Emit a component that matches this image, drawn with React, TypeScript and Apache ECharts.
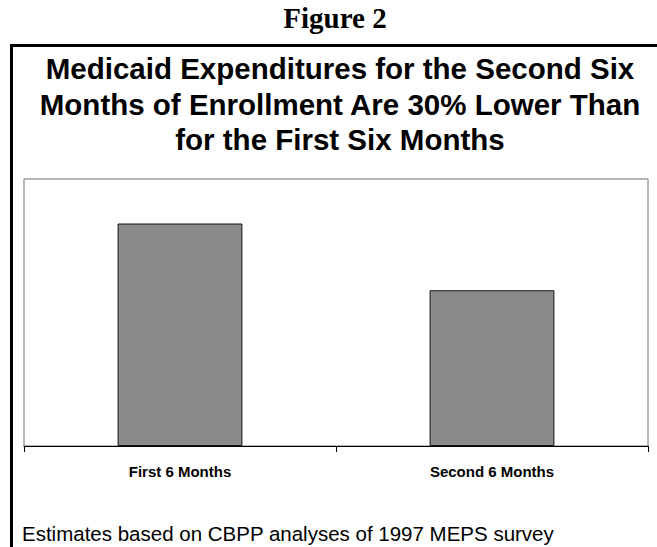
import React, { useEffect, useRef } from "react";
import * as echarts from "echarts";

const categories = ["First 6 Months", "Second 6 Months"];
const expenditures = [100, 70];
const figureLabel = "Figure 2";
const chartTitle =
  "Medicaid Expenditures for the Second Six\nMonths of Enrollment Are 30% Lower Than\nfor the First Six Months";
const footnote = "Estimates based on CBPP analyses of 1997 MEPS survey";

export default function App() {
  const ref = useRef<HTMLDivElement>(null);
  useEffect(() => {
    document.body.style.margin = "0";
    const chart = echarts.init(ref.current!, null, { renderer: "svg" });
    chart.setOption({
      animation: false,
      backgroundColor: "#ffffff",
      title: {
        text: chartTitle,
        left: 335,
        top: 46,
        textAlign: "center",
        textStyle: {
          fontFamily: "Liberation Sans, Arial, sans-serif",
          fontWeight: "bold",
          fontSize: 29.5,
          lineHeight: 35.5,
          color: "#000",
        },
      },
      grid: {
        left: 24,
        top: 179,
        width: 624,
        height: 267,
        show: true,
        borderColor: "#707070",
        borderWidth: 1,
        backgroundColor: "#fff",
      },
      xAxis: {
        type: "category",
        data: categories,
        axisLine: { lineStyle: { color: "#000", width: 1 } },
        axisTick: { show: true, length: 6, lineStyle: { color: "#000" } },
        axisLabel: {
          margin: 18,
          color: "#000",
          fontFamily: "Liberation Sans, Arial, sans-serif",
          fontWeight: "bold",
          fontSize: 15,
        },
      },
      yAxis: {
        type: "value",
        min: 0,
        max: 120,
        show: false,
        splitLine: { show: false },
      },
      series: [
        {
          type: "bar",
          data: expenditures,
          barWidth: "40%",
          itemStyle: { color: "#8a8a8a", borderColor: "#111", borderWidth: 1 },
        },
      ],
      graphic: [
        {
          type: "text",
          style: {
            text: figureLabel,
            x: 335,
            y: 18,
            textAlign: "center",
            textVerticalAlign: "middle",
            font: "bold 29px 'Liberation Serif', 'Times New Roman', serif",
            fill: "#000",
          },
        },
        {
          type: "line",
          shape: { x1: 10, y1: 45.5, x2: 657, y2: 45.5 },
          style: { stroke: "#000", lineWidth: 3 },
        },
        {
          type: "line",
          shape: { x1: 11.5, y1: 44, x2: 11.5, y2: 547 },
          style: { stroke: "#000", lineWidth: 3 },
        },
        {
          type: "text",
          style: {
            text: footnote,
            x: 22,
            y: 533,
            textAlign: "left",
            textVerticalAlign: "middle",
            font: "20.5px 'Liberation Sans', Arial, sans-serif",
            fill: "#000",
          },
        },
      ],
    });
    return () => chart.dispose();
  }, []);
  return (
    <div
      ref={ref}
      style={{ position: "absolute", left: 0, top: 0, width: 657, height: 547 }}
    />
  );
}
